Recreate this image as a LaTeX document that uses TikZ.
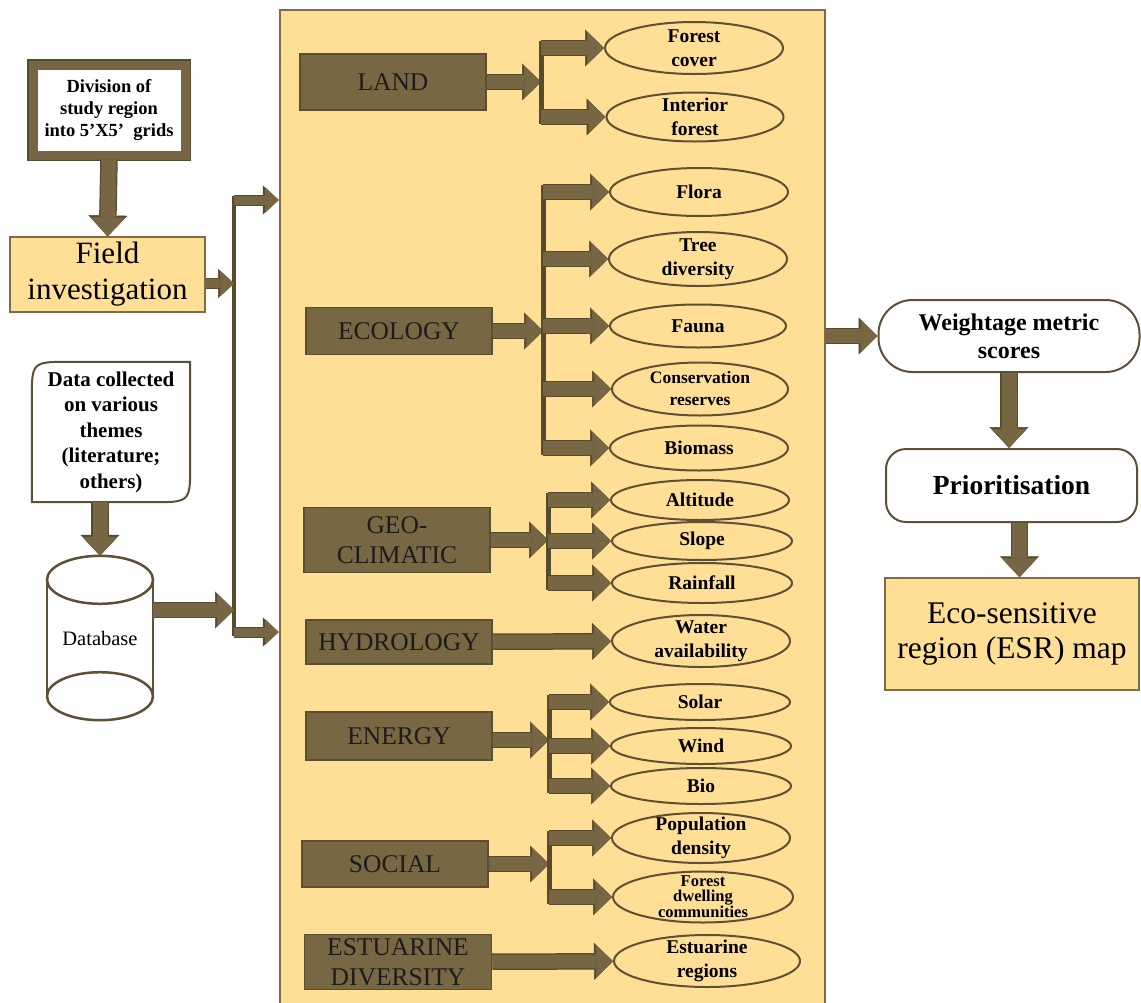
\documentclass[tikz,border=0pt]{standalone}
\usepackage{fontspec}
\setmainfont{Liberation Serif}
\usepackage{xcolor}
\usepackage{tikz}
\usetikzlibrary{shapes.geometric,arrows.meta,calc}
\definecolor{panelfill}{HTML}{FFDE96}
\definecolor{panelline}{HTML}{7F6B45}
\definecolor{boxfill}{HTML}{786743}
\definecolor{boxedge}{HTML}{5C4E31}
\definecolor{boxtext}{HTML}{1C1C1C}
\definecolor{arrowfill}{HTML}{776643}
\definecolor{arrowedge}{HTML}{584A2C}
\definecolor{leafedge}{HTML}{5E5035}

\begin{document}
\begin{tikzpicture}[x=1pt,y=-1pt,every node/.style={align=center,inner sep=0pt},
    catbox/.style={draw=boxedge,fill=boxfill,line width=1.5pt,minimum width=186pt,text=boxtext,font=\fontsize{25.5}{30}\selectfont},
    leaf/.style={ellipse,draw=leafedge,line width=2pt,fill=panelfill,inner xsep=-25pt,inner ysep=-14pt,font=\bfseries\fontsize{19.5}{24}\selectfont},
    barrow/.style={draw=arrowfill,line width=14pt,-{Triangle[length=17pt,width=33pt,line width=0.5pt]},preaction={draw=arrowedge,line width=16.5pt,-{Triangle[length=19pt,width=37pt,line width=0.5pt]}}},
    sarrow/.style={draw=arrowfill,line width=9pt,-{Triangle[length=14pt,width=26pt,line width=0.5pt]},preaction={draw=arrowedge,line width=11pt,-{Triangle[length=16pt,width=29pt,line width=0.5pt]}}},
    varrow/.style={draw=arrowfill,line width=15pt,-{Triangle[length=19pt,width=35pt,line width=0.5pt]},preaction={draw=arrowedge,line width=17.5pt,-{Triangle[length=21pt,width=39pt,line width=0.5pt]}}},
    fork/.style={draw=arrowedge,line width=5pt,shorten <=-7pt,shorten >=-7pt},
    dbline/.style={draw=leafedge,line width=2.5pt}]
\clip (0,0) rectangle (1141,1002);
\node[draw=panelline,fill=panelfill,line width=2.5pt,minimum width=545pt,minimum height=1000pt] (panel) at (552.5,510) {};

\node[draw=arrowfill,line width=9pt,fill=white,minimum width=152pt,minimum height=90pt,font=\bfseries\fontsize{18.5}{22}\selectfont,preaction={draw=arrowedge,line width=12pt}] (division) at (109,110) {Division of\\study region\\into 5’X5’~~grids};
\node[draw=panelline,fill=panelfill,line width=1.2pt,minimum width=195pt,minimum height=75pt,font=\fontsize{31}{36}\selectfont] (field) at (107.5,274.5) {Field\\investigation};
\node[minimum width=158pt,minimum height=140pt,font=\bfseries\fontsize{21}{25.5}\selectfont] (data) at (111,432) {Data collected\\on various\\themes\\(literature;\\others)};
\draw[dbline,line width=2pt] (data.south west) -- ($(data.north west)+(0,38)$) .. controls (data.north west) .. ($(data.north west)+(38,0)$) -- (data.north east) -- ($(data.south east)+(0,-38)$) .. controls (data.south east) .. ($(data.south east)+(-38,0)$) -- cycle;
\node[minimum width=106pt,minimum height=164pt,font=\fontsize{20.5}{24}\selectfont] (db) at (100,638) {Database};
\draw[dbline] ($(db.north)+(0,24)$) ellipse [x radius=53, y radius=24];
\draw[dbline] ($(db.south)+(0,-24)$) ellipse [x radius=53, y radius=24];
\draw[dbline] ($(db.north west)+(0,24)$) -- ($(db.south west)+(0,-24)$);
\draw[dbline] ($(db.north east)+(0,24)$) -- ($(db.south east)+(0,-24)$);

\coordinate (ltop) at (234,200);
\coordinate (lbot) at (234,632);
\coordinate (fe) at ($(field.east)+(0,9)$);
\coordinate (dbe) at ($(db.east)+(0,-28)$);
\draw[varrow] (division.south) -- (field.north);
\draw[varrow] (data.south -| db.north) -- (db.north);
\draw[fork,line width=4pt,shorten <=-4pt,shorten >=-4pt] (ltop) -- (lbot);
\draw[sarrow] (fe) -- (fe -| ltop);
\draw[barrow] (dbe) -- (dbe -| ltop);
\draw[sarrow] (ltop) -- (ltop -| panel.west);
\draw[sarrow] (lbot) -- (lbot -| panel.west);

\node[catbox,minimum height=56pt] (land) at (393,82) {LAND};
\node[leaf,minimum width=178pt,minimum height=52pt] (forcov) at (694,48) {Forest\\cover};
\node[leaf,minimum width=177pt,minimum height=49pt] (intfor) at (695,117) {Interior\\forest};
\coordinate (landfork) at (541,82);
\draw[barrow] (land) -- (landfork);
\draw[fork] (landfork |- forcov.west) -- (landfork |- intfor.west);
\foreach \n in {forcov,intfor} \draw[barrow] (landfork |- \n.west) -- (\n.west);

\node[catbox,minimum height=47pt] (eco) at (399,331) {ECOLOGY};
\node[leaf,minimum width=178pt,minimum height=48pt] (flora) at (699,192) {Flora};
\node[leaf,minimum width=178pt,minimum height=54pt] (tree) at (698,259) {Tree\\diversity};
\node[leaf,minimum width=176pt,minimum height=43pt] (fauna) at (698,326) {Fauna};
\node[leaf,minimum width=176pt,minimum height=53pt,font=\bfseries\fontsize{17.5}{22}\selectfont] (cons) at (700,389) {Conservation\\reserves};
\node[leaf,minimum width=178pt,minimum height=45pt] (biomass) at (699,448) {Biomass};
\coordinate (ecofork) at (543,331);
\draw[barrow] (eco) -- (ecofork);
\draw[fork] (ecofork |- flora.west) -- (ecofork |- biomass.west);
\foreach \n in {flora,tree,fauna,cons,biomass} \draw[barrow] (ecofork |- \n.west) -- (\n.west);

\node[catbox,minimum height=65pt] (geo) at (397,540) {GEO-\\CLIMATIC};
\node[leaf,minimum width=178pt,minimum height=40pt] (alt) at (700,500) {Altitude};
\node[leaf,minimum width=180pt,minimum height=38pt] (slope) at (702,541) {Slope};
\node[leaf,minimum width=180pt,minimum height=40pt] (rain) at (702,583) {Rainfall};
\coordinate (geofork) at (548,540);
\draw[barrow] (geo) -- (geofork);
\draw[fork] (geofork |- alt.west) -- (geofork |- rain.west);
\foreach \n in {alt,slope,rain} \draw[barrow] (geofork |- \n.west) -- (\n.west);

\node[catbox,minimum height=44pt] (hydro) at (399,642) {HYDROLOGY};
\node[leaf,minimum width=178pt,minimum height=52pt] (water) at (701,641) {Water\\availability};
\draw[barrow] (hydro) -- (water);

\node[catbox,minimum height=48pt] (energy) at (399,736) {ENERGY};
\node[leaf,minimum width=180pt,minimum height=36pt] (solar) at (700,702) {Solar};
\node[leaf,minimum width=180pt,minimum height=36pt] (wind) at (701,746) {Wind};
\node[leaf,minimum width=180pt,minimum height=36pt] (bio) at (701,786) {Bio};
\coordinate (enfork) at (549,740);
\draw[barrow] (energy.east |- enfork) -- (enfork);
\draw[fork] (enfork |- solar.west) -- (enfork |- bio.west);
\foreach \n in {solar,wind,bio} \draw[barrow] (enfork |- \n.west) -- (\n.west);

\node[catbox,minimum height=46pt] (social) at (395,864) {SOCIAL};
\node[leaf,minimum width=178pt,minimum height=50pt] (pop) at (701,838) {Population\\density};
\node[leaf,minimum width=180pt,minimum height=51pt,font=\bfseries\fontsize{16.5}{15}\selectfont] (dwell) at (703,897) {Forest\\dwelling\\communities};
\coordinate (socfork) at (549,864);
\draw[barrow] (social) -- (socfork);
\draw[fork] (socfork |- pop.west) -- (socfork |- dwell.west);
\foreach \n in {pop,dwell} \draw[barrow] (socfork |- \n.west) -- (\n.west);

\node[catbox,minimum height=55pt,minimum width=187pt] (estu) at (398,962) {ESTUARINE\\DIVERSITY};
\node[leaf,minimum width=186pt,minimum height=52pt] (estreg) at (707,961) {Estuarine\\regions};
\draw[barrow] (estu) -- (estreg);

\node[draw=leafedge,fill=white,line width=2pt,rounded corners=34pt,minimum width=261pt,minimum height=72pt,font=\bfseries\fontsize{24}{28}\selectfont] (weight) at (1009,336) {Weightage metric\\scores};
\node[draw=leafedge,fill=white,line width=2pt,rounded corners=20pt,minimum width=251pt,minimum height=73pt,font=\bfseries\fontsize{27.5}{30}\selectfont] (prio) at (1011.5,485.5) {Prioritisation};
\node[draw=panelline,fill=panelfill,line width=1.5pt,minimum width=254pt,minimum height=112pt,font=\fontsize{31.5}{35}\selectfont] (esr) at (1012,634) {Eco-sensitive\\region (ESR) map};
\coordinate (ps) at ($(prio.south)+(8,0)$);
\draw[barrow] (panel.east |- weight.west) -- (weight.west);
\draw[varrow] (weight.south) -- (weight.south |- prio.north);
\draw[varrow] (ps) -- (ps |- esr.north);
\end{tikzpicture}
\end{document}
